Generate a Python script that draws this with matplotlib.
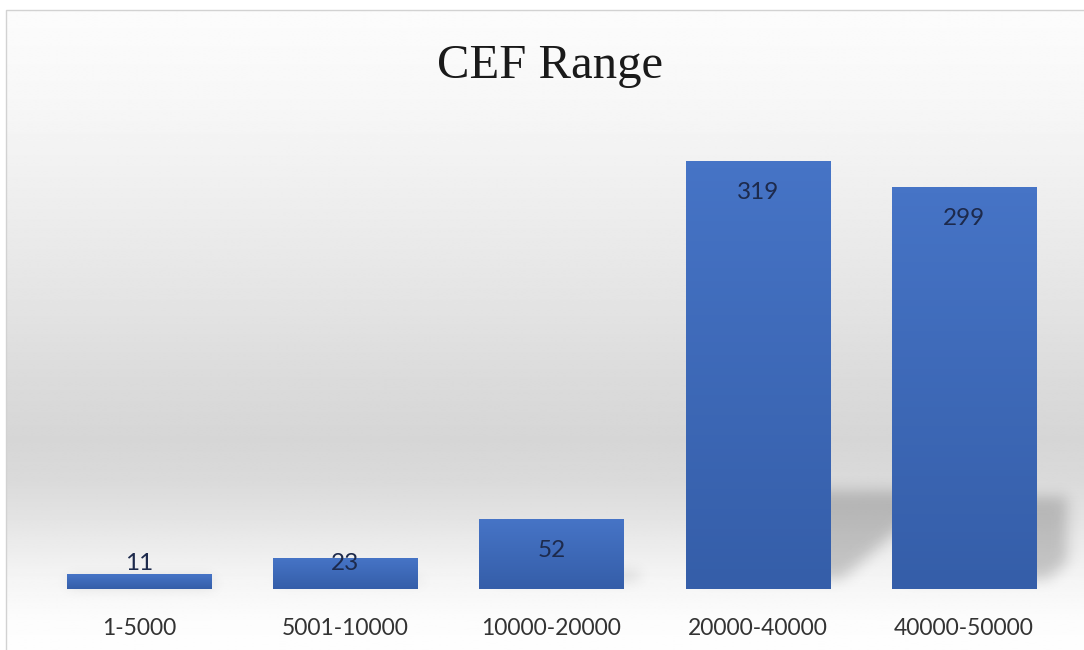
import numpy as np
import matplotlib
matplotlib.use("Agg")
import matplotlib.pyplot as plt
from matplotlib.patches import Rectangle, PathPatch
from matplotlib.path import Path
from matplotlib.transforms import Bbox
from matplotlib.colors import LinearSegmentedColormap

categories = ["1-5000", "5001-10000", "10000-20000", "20000-40000", "40000-50000"]
counts = [11, 23, 52, 319, 299]

W, H = 1084, 650
YMAX = 350


class ShadowBlur:
    """agg_filter: gaussian-blur the alpha of whatever was drawn, paint it black."""

    def __init__(self, sigma_px, alpha):
        self.sigma = sigma_px
        self.alpha = alpha

    def __call__(self, im, dpi):
        r = int(3 * self.sigma) + 1
        k = np.exp(-0.5 * (np.arange(-r, r + 1) / self.sigma) ** 2)
        k /= k.sum()
        a = np.pad(im[:, :, 3], 2 * r)
        h, w = a.shape
        p = np.pad(a, r)
        tmp = sum(k[i] * p[:, i:i + w] for i in range(len(k)))
        a = sum(k[i] * tmp[i:i + h, :] for i in range(len(k)))
        out = np.zeros((h, w, 4))
        out[:, :, 3] = np.clip(a * self.alpha, 0, 1)
        return out, -2 * r, -2 * r


fig = plt.figure(figsize=(W / 100, H / 100), dpi=100)

# chart area: vertical grey gradient inside a thin frame
fl, ft = 6, 10
bg = fig.add_axes([fl / W, 0, 1 - fl / W, 1 - ft / H], zorder=-5)
ys = np.linspace(ft, H, 400)
stop_y = [10, 100, 200, 300, 380, 440, 480, 510, 540, 580, 620, 650]
stop_v = [252, 247, 238, 228, 219, 214, 218, 225, 234, 245, 252, 254]
shade = np.interp(ys, stop_y, stop_v) / 255
bg.imshow(np.repeat(shade[:, None], 2, axis=1), cmap="gray", vmin=0, vmax=1,
          aspect="auto", extent=(0, 1, 0, 1), interpolation="bilinear")
bg.set_axis_off()
fig.add_artist(Rectangle((fl / W, -0.1), 1.2, 1 - ft / H + 0.1,
                         transform=fig.transFigure, fill=False, ec="#d2d2d2", lw=1))

ax_l, ax_r, ax_b = 36, 1067, 589
ppu = 428 / 319                      # pixels per count
ax_h = YMAX * ppu
ax = fig.add_axes([ax_l / W, (H - ax_b) / H, (ax_r - ax_l) / W, ax_h / H])
ax.patch.set_visible(False)
for s in ax.spines.values():
    s.set_visible(False)

x = np.arange(len(categories))
bar_w = 0.7
bars = ax.bar(x, counts, width=bar_w, color="none", zorder=3)

# bars: light-to-dark blue gradient top to bottom
grad = LinearSegmentedColormap.from_list("barfill", ["#355ea9", "#4674c6"])
for b in bars:
    x0, w, h = b.get_x(), b.get_width(), b.get_height()
    ax.imshow(np.linspace(0, 1, 64)[:, None], cmap=grad, origin="lower",
              extent=(x0, x0 + w, 0, h), aspect="auto", zorder=3)

# perspective shadow thrown up and to the right of each bar
px_per_x = (ax_r - ax_l) / len(categories)
k_h, skew = 0.23, 0.266
lift = 10 / ppu
clip = Bbox([[-0.5, 0], [len(categories) - 0.5, YMAX]])
for b in bars:
    x0, w, h = b.get_x(), b.get_width(), b.get_height()
    top = k_h * h
    shift = skew * h * ppu / px_per_x
    s0 = shift * lift / top if top > lift else 0
    verts = [(x0 + s0, lift), (x0 + w + s0, lift), (x0 + w + shift, top),
             (x0 + shift, top), (x0 + s0, lift)]
    path = Path(verts, closed=True).clip_to_bbox(clip)
    if len(path.vertices) == 0:
        continue
    sh = PathPatch(path, fc="black", ec="none", zorder=2)
    sh.set_agg_filter(ShadowBlur(7, 0.19))
    ax.add_patch(sh)

# value labels just inside the bar top, kept clear of the baseline
for xi, v in zip(x, counts):
    ly = max(v - 31 / ppu, 25 / ppu)
    ax.text(xi, ly, str(v), ha="center", va="center", fontsize=17.5,
            family="Lato", color="#1d2a4c", zorder=4)

ax.set_xlim(-0.5, len(categories) - 0.5)
ax.set_ylim(0, YMAX)
ax.set_yticks([])
ax.set_xticks(x, categories, fontsize=16.5, family="Lato", color="#333333")
ax.tick_params(axis="x", length=0, pad=21)

fig.text(550 / W, 1 - 78 / H, "CEF Range", ha="center", va="baseline",
         fontsize=35, family="Liberation Serif", color="#1a1a1a")

fig.savefig("out.png", dpi=100)
